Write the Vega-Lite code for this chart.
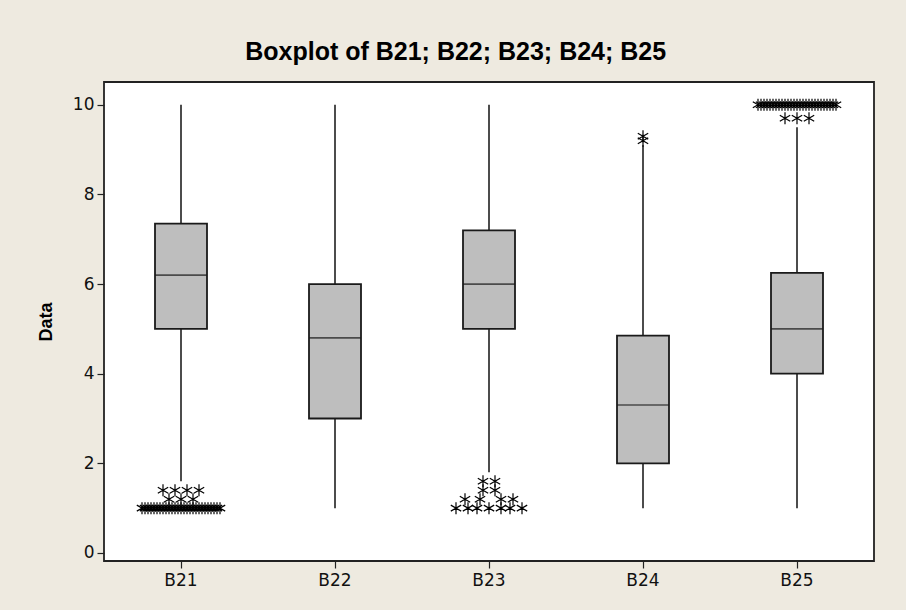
{
  "$schema": "https://vega.github.io/schema/vega-lite/v6.json",
  "width": 770,
  "height": 479,
  "autosize": {"type": "none"},
  "padding": {"left": 104, "top": 82, "right": 32, "bottom": 49},
  "background": "#EEEAE0",
  "title": {
    "text": "Boxplot of B21; B22; B23; B24; B25",
    "font": "Liberation Sans",
    "fontSize": 25,
    "fontWeight": "bold",
    "color": "#000000",
    "anchor": "middle",
    "frame": "bounds",
    "offset": 17
  },
  "config": {
    "view": {"stroke": "#222222", "strokeWidth": 1.8, "fill": "white"},
    "axis": {
      "labelFont": "DejaVu Sans",
      "labelFontSize": 17,
      "labelColor": "#111111",
      "tickColor": "#222222",
      "tickSize": 7,
      "tickWidth": 1.2,
      "grid": false,
      "domain": false,
      "titleFont": "Liberation Sans",
      "titleFontSize": 18,
      "titleFontWeight": "bold",
      "titleColor": "#000000"
    }
  },
  "datasets": {
    "boxes": [
      {"col": "B21", "lo": 1.6, "q1": 5.0, "med": 6.2, "q3": 7.35, "hi": 10},
      {"col": "B22", "lo": 1.0, "q1": 3.0, "med": 4.8, "q3": 6.0, "hi": 10},
      {"col": "B23", "lo": 1.8, "q1": 5.0, "med": 6.0, "q3": 7.2, "hi": 10},
      {"col": "B24", "lo": 1.0, "q1": 2.0, "med": 3.3, "q3": 4.85, "hi": 9.1},
      {"col": "B25", "lo": 1.0, "q1": 4.0, "med": 5.0, "q3": 6.25, "hi": 9.5}
    ],
    "outliers": [
      {"col": "B21", "value": 1.0, "k": -13}, {"col": "B21", "value": 1.0, "k": -12}, {"col": "B21", "value": 1.0, "k": -11},
      {"col": "B21", "value": 1.0, "k": -10}, {"col": "B21", "value": 1.0, "k": -9}, {"col": "B21", "value": 1.0, "k": -8},
      {"col": "B21", "value": 1.0, "k": -7}, {"col": "B21", "value": 1.0, "k": -6}, {"col": "B21", "value": 1.0, "k": -5},
      {"col": "B21", "value": 1.0, "k": -4}, {"col": "B21", "value": 1.0, "k": -3}, {"col": "B21", "value": 1.0, "k": -2},
      {"col": "B21", "value": 1.0, "k": -1}, {"col": "B21", "value": 1.0, "k": 0}, {"col": "B21", "value": 1.0, "k": 1},
      {"col": "B21", "value": 1.0, "k": 2}, {"col": "B21", "value": 1.0, "k": 3}, {"col": "B21", "value": 1.0, "k": 4},
      {"col": "B21", "value": 1.0, "k": 5}, {"col": "B21", "value": 1.0, "k": 6}, {"col": "B21", "value": 1.0, "k": 7},
      {"col": "B21", "value": 1.0, "k": 8}, {"col": "B21", "value": 1.0, "k": 9}, {"col": "B21", "value": 1.0, "k": 10},
      {"col": "B21", "value": 1.0, "k": 11}, {"col": "B21", "value": 1.0, "k": 12}, {"col": "B21", "value": 1.0, "k": 13},
      {"col": "B21", "value": 1.2, "k": -4}, {"col": "B21", "value": 1.2, "k": 0}, {"col": "B21", "value": 1.2, "k": 4},
      {"col": "B21", "value": 1.4, "k": -6}, {"col": "B21", "value": 1.4, "k": -2}, {"col": "B21", "value": 1.4, "k": 2}, {"col": "B21", "value": 1.4, "k": 6},
      {"col": "B23", "value": 1.0, "k": -11}, {"col": "B23", "value": 1.0, "k": -7}, {"col": "B23", "value": 1.0, "k": -4},
      {"col": "B23", "value": 1.0, "k": 0}, {"col": "B23", "value": 1.0, "k": 4}, {"col": "B23", "value": 1.0, "k": 7}, {"col": "B23", "value": 1.0, "k": 11},
      {"col": "B23", "value": 1.2, "k": -8}, {"col": "B23", "value": 1.2, "k": -3}, {"col": "B23", "value": 1.2, "k": 4}, {"col": "B23", "value": 1.2, "k": 8},
      {"col": "B23", "value": 1.4, "k": -2}, {"col": "B23", "value": 1.4, "k": 2},
      {"col": "B23", "value": 1.6, "k": -2}, {"col": "B23", "value": 1.6, "k": 2},
      {"col": "B24", "value": 9.2, "k": 0}, {"col": "B24", "value": 9.3, "k": 0},
      {"col": "B25", "value": 10.0, "k": -13}, {"col": "B25", "value": 10.0, "k": -12}, {"col": "B25", "value": 10.0, "k": -11},
      {"col": "B25", "value": 10.0, "k": -10}, {"col": "B25", "value": 10.0, "k": -9}, {"col": "B25", "value": 10.0, "k": -8},
      {"col": "B25", "value": 10.0, "k": -7}, {"col": "B25", "value": 10.0, "k": -6}, {"col": "B25", "value": 10.0, "k": -5},
      {"col": "B25", "value": 10.0, "k": -4}, {"col": "B25", "value": 10.0, "k": -3}, {"col": "B25", "value": 10.0, "k": -2},
      {"col": "B25", "value": 10.0, "k": -1}, {"col": "B25", "value": 10.0, "k": 0}, {"col": "B25", "value": 10.0, "k": 1},
      {"col": "B25", "value": 10.0, "k": 2}, {"col": "B25", "value": 10.0, "k": 3}, {"col": "B25", "value": 10.0, "k": 4},
      {"col": "B25", "value": 10.0, "k": 5}, {"col": "B25", "value": 10.0, "k": 6}, {"col": "B25", "value": 10.0, "k": 7},
      {"col": "B25", "value": 10.0, "k": 8}, {"col": "B25", "value": 10.0, "k": 9}, {"col": "B25", "value": 10.0, "k": 10},
      {"col": "B25", "value": 10.0, "k": 11}, {"col": "B25", "value": 10.0, "k": 12}, {"col": "B25", "value": 10.0, "k": 13},
      {"col": "B25", "value": 9.7, "k": -4}, {"col": "B25", "value": 9.7, "k": 0}, {"col": "B25", "value": 9.7, "k": 4}
    ]
  },
  "encoding": {
    "x": {
      "field": "col",
      "type": "nominal",
      "scale": {"type": "band", "domain": ["B21", "B22", "B23", "B24", "B25"], "paddingInner": 0, "paddingOuter": 0},
      "axis": {"title": null, "labelAngle": 0, "labelPadding": 4, "bandPosition": 0.5}
    }
  },
  "layer": [
    {
      "data": {"name": "boxes"},
      "mark": {"type": "rule", "color": "#111111", "strokeWidth": 1.5},
      "encoding": {
        "y": {"field": "lo", "type": "quantitative", "scale": {"domain": [-0.18, 10.51], "nice": false, "zero": false},
              "axis": {"title": "Data", "values": [0, 2, 4, 6, 8, 10], "labelPadding": 3, "titlePadding": 17}},
        "y2": {"field": "hi"}
      }
    },
    {
      "data": {"name": "boxes"},
      "mark": {"type": "bar", "size": 52, "fill": "#BEBEBE", "stroke": "#1a1a1a", "strokeWidth": 1.8},
      "encoding": {
        "y": {"field": "q1", "type": "quantitative"},
        "y2": {"field": "q3"}
      }
    },
    {
      "data": {"name": "boxes"},
      "mark": {"type": "tick", "size": 52, "thickness": 1.6, "color": "#1a1a1a"},
      "encoding": {
        "y": {"field": "med", "type": "quantitative"}
      }
    },
    {
      "data": {"name": "outliers"},
      "mark": {"type": "point", "shape": "M0,-1L0,1M-0.866,-0.5L0.866,0.5M-0.866,0.5L0.866,-0.5", "size": 144, "stroke": "#000000", "strokeWidth": 1.2, "filled": false, "opacity": 1},
      "encoding": {
        "y": {"field": "value", "type": "quantitative"},
        "xOffset": {"field": "k", "type": "quantitative", "scale": {"domain": [-20, 20], "range": [17, 137]}}
      }
    }
  ]
}
